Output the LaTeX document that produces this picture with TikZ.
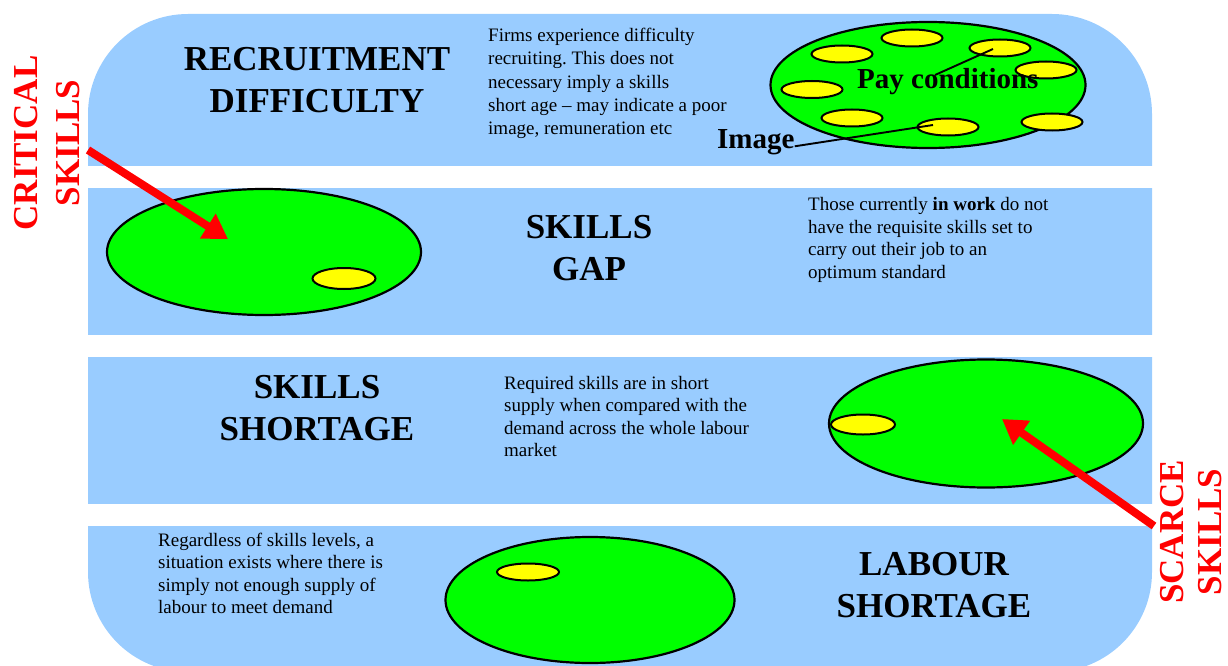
\documentclass[tikz,border=0pt]{standalone}
\usepackage{fontspec}
\setmainfont{Liberation Serif}
\usetikzlibrary{shapes.geometric,arrows.meta,calc}
\definecolor{bandblue}{HTML}{99CCFF}
\definecolor{leafgreen}{HTML}{00FF00}
\definecolor{dotyellow}{HTML}{FFFF00}
\frenchspacing

\begin{document}
\begin{tikzpicture}[x=1pt,y=-1pt,
  pool/.style={ellipse, draw=black, line width=2.2pt, fill=leafgreen, inner sep=0pt},
  spot/.style={ellipse, draw=black, line width=2pt, fill=dotyellow, inner sep=0pt,
               minimum width=61pt, minimum height=17pt},
  title/.style={font=\fontsize{35}{42}\selectfont\bfseries, align=center, inner sep=0pt, anchor=north},
  note/.style={font=\fontsize{19}{22.4}\selectfont, align=left, inner sep=0pt, anchor=north west},
  tag/.style={font=\fontsize{29}{34}\selectfont\bfseries, inner sep=0pt, anchor=base west},
  leader/.style={draw=black, line width=1.9pt},
  redarrow/.style={draw=red, line width=8pt, -{Triangle[length=24pt,width=28pt,fill=red]}},
  redlabel/.style={text=red, font=\fontsize{35}{42}\selectfont\bfseries, align=center, rotate=90, inner sep=0pt}
]
\useasboundingbox (0,0) rectangle (1228,666);

% blue panel with the white gaps between the four bands
\fill[bandblue, rounded corners=100pt] (88,14) rectangle (1152,672);
\fill[white] (0,165.5) rectangle (1228,188);
\fill[white] (0,335) rectangle (1228,357);
\fill[white] (0,504) rectangle (1228,525.5);

% green pools
\node[pool, minimum width=315pt, minimum height=126pt] (poolA) at (928,85) {};
\node[pool, minimum width=314pt, minimum height=126pt] (poolB) at (264,252) {};
\node[pool, minimum width=314pt, minimum height=128pt] (poolC) at (986,423.5) {};
\node[pool, minimum width=289pt, minimum height=126pt] (poolD) at (590,600) {};

% yellow spots
\node[spot] (y1) at (842,54) {};
\node[spot] (y2) at (912,38) {};
\node[spot] (y3) at (1000,48) {};
\node[spot] (y4) at (1046,70) {};
\node[spot] (y5) at (812,89.5) {};
\node[spot] (y6) at (852,118) {};
\node[spot] (y7) at (948,127) {};
\node[spot] (y8) at (1052,122) {};
\node[spot, minimum width=63pt, minimum height=21pt] (gapspot) at (344,278.5) {};
\node[spot, minimum width=64pt, minimum height=20pt] (shortspot) at (863,424.5) {};
\node[spot, minimum width=62pt, minimum height=17pt] (labourspot) at (528,572) {};

% band titles
\node[title] (recruit) at (317,47) {RECRUITMENT\\DIFFICULTY};
\node[title] (gap) at (589,215) {SKILLS\\GAP};
\node[title] (shortage) at (317,375) {SKILLS\\SHORTAGE};
\node[title] (labour) at (934,552) {LABOUR\\SHORTAGE};

% band notes
\node[note, font=\fontsize{19}{23.3}\selectfont] (recruitnote) at (488,28)
  {Firms experience difficulty\\recruiting. This does not\\necessary imply a skills\\short age -- may indicate a poor\\image, remuneration etc};
\node[note] (gapnote) at (808,197.5)
  {Those currently \textbf{in work} do not\\have the requisite skills set to\\carry out their job to an\\optimum standard};
\node[note] (shortnote) at (504,376)
  {Required skills are in short\\supply when compared with the\\demand across the whole labour\\market};
\node[note] (labournote) at (158,532.7)
  {Regardless of skills levels, a\\situation exists where there is\\simply not enough supply of\\labour to meet demand};

% leaders to the spots
\coordinate (payfoot) at (935,75);
\draw[leader] (payfoot) -- ($(y3)+(-7,1)$);
\node[tag] (pay) at (857,88.3) {Pay conditions};
\node[tag] (image) at (717,148.3) {Image};
\draw[leader] ($(image.base east)+(0,-2)$) -- ($(y7)+(-15,-2)$);

% red arrows and side labels
\coordinate (critfoot) at (88,150);
\coordinate (crittip) at (228,239);
\draw[redarrow] (critfoot) -- (crittip);
\coordinate (scarcefoot) at (1154,526);
\coordinate (scarcetip) at (1002,419);
\draw[redarrow] (scarcefoot) -- (scarcetip);
\node[redlabel] (critical) at (47,143) {CRITICAL\\SKILLS};
\node[redlabel, font=\fontsize{35}{38}\selectfont\bfseries] (scarce) at (1191.5,532) {SCARCE\\SKILLS};
\end{tikzpicture}
\end{document}
